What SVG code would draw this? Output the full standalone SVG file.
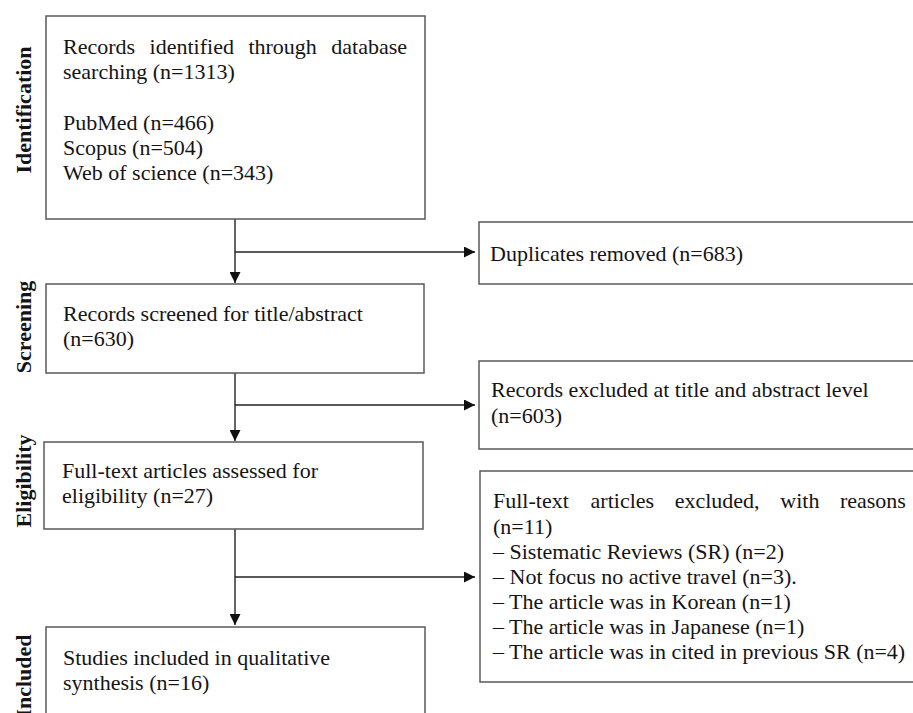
<svg xmlns="http://www.w3.org/2000/svg" width="913" height="713" viewBox="0 0 913 713">
<style>
.box{fill:#fff;stroke:#5a5a5a;stroke-width:1.5}
.t{font-family:"Liberation Serif","Times New Roman",serif;font-size:22px;fill:#141414}
.lab{font-family:"Liberation Serif","Times New Roman",serif;font-size:22px;font-weight:bold;fill:#141414}
.c{fill:none;stroke:#222;stroke-width:1.4}
</style>
<defs>
<marker id="ah" viewBox="0 0 12 12" refX="12" refY="6" markerWidth="12" markerHeight="11" markerUnits="userSpaceOnUse" orient="auto">
<path d="M0,0 L12,6 L0,12 z" fill="#111"/>
</marker>
</defs>
<rect width="913" height="713" fill="#fff"/>
<g id="labels">
<text class="lab" transform="translate(31,110) rotate(-90)" text-anchor="middle">Identification</text>
<text class="lab" transform="translate(31,327) rotate(-90)" text-anchor="middle">Screening</text>
<text class="lab" transform="translate(31,481) rotate(-90)" text-anchor="middle">Eligibility</text>
<text class="lab" transform="translate(31,676) rotate(-90)" text-anchor="middle">Included</text>
</g>
<g id="connectors">
<path class="c" d="M235,219 V283" marker-end="url(#ah)"/>
<path class="c" d="M235,252 H475" marker-end="url(#ah)"/>
<path class="c" d="M235,373 V441" marker-end="url(#ah)"/>
<path class="c" d="M235,405 H475" marker-end="url(#ah)"/>
<path class="c" d="M235,529 V625" marker-end="url(#ah)"/>
<path class="c" d="M235,577 H475" marker-end="url(#ah)"/>
</g>
<g id="identified">
<rect class="box" x="46" y="16" width="379" height="203"/>
<text class="t" y="54"><tspan x="63">Records</tspan><tspan x="149.6">identified</tspan><tspan x="248.4">through</tspan><tspan x="331.3">database</tspan></text>
<text class="t" x="63" y="79">searching (n=1313)</text>
<text class="t" x="63" y="130">PubMed (n=466)</text>
<text class="t" x="63" y="155">Scopus (n=504)</text>
<text class="t" x="63" y="180">Web of science (n=343)</text>
</g>
<g id="duplicates">
<rect class="box" x="479" y="222" width="450" height="62"/>
<text class="t" x="490" y="261">Duplicates removed (n=683)</text>
</g>
<g id="screened">
<rect class="box" x="46" y="284" width="378" height="89"/>
<text class="t" x="63" y="321">Records screened for title/abstract</text>
<text class="t" x="63" y="346">(n=630)</text>
</g>
<g id="excluded1">
<rect class="box" x="479" y="361" width="450" height="88"/>
<text class="t" x="491" y="397">Records excluded at title and abstract level</text>
<text class="t" x="491" y="423">(n=603)</text>
</g>
<g id="eligibility">
<rect class="box" x="44" y="442" width="379" height="87"/>
<text class="t" x="62" y="478">Full-text articles assessed for</text>
<text class="t" x="62" y="503">eligibility (n=27)</text>
</g>
<g id="excluded2">
<rect class="box" x="480" y="471" width="450" height="211"/>
<text class="t" y="508"><tspan x="493">Full-text</tspan><tspan x="590.6">articles</tspan><tspan x="674.7">excluded,</tspan><tspan x="780.3">with</tspan><tspan x="839.9">reasons</tspan></text>
<text class="t" x="493" y="534">(n=11)</text>
<text class="t" x="493" y="559">– Sistematic Reviews (SR) (n=2)</text>
<text class="t" x="493" y="584">– Not focus no active travel (n=3).</text>
<text class="t" x="493" y="609">– The article was in Korean (n=1)</text>
<text class="t" x="493" y="634">– The article was in Japanese (n=1)</text>
<text class="t" x="493" y="659">– The article was in cited in previous SR (n=4)</text>
</g>
<g id="included">
<rect class="box" x="46" y="627" width="379" height="100"/>
<text class="t" x="63" y="665">Studies included in qualitative</text>
<text class="t" x="63" y="690">synthesis (n=16)</text>
</g>
</svg>
